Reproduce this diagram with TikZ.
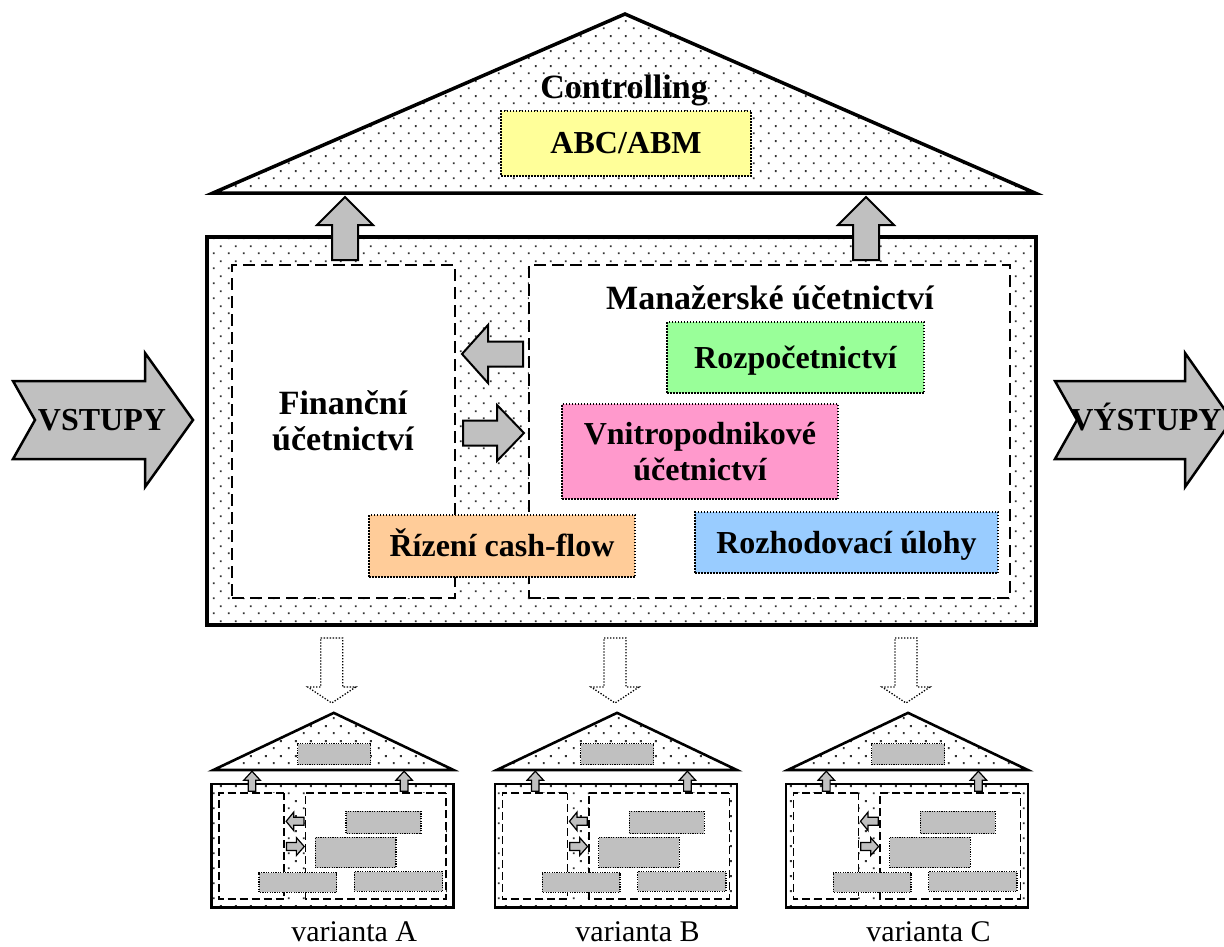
\documentclass[tikz,border=0pt]{standalone}
\usepackage{fontspec}
\setmainfont{Liberation Serif}
\usetikzlibrary{patterns}

\definecolor{abcyellow}{HTML}{FFFF99}
\definecolor{budgetgreen}{HTML}{99FF99}
\definecolor{internalpink}{HTML}{FF99CC}
\definecolor{cashorange}{HTML}{FFCC99}
\definecolor{decisionblue}{HTML}{99CCFF}
\definecolor{arrowgray}{HTML}{C0C0C0}

% sparse staggered dots used as background texture
\pgfdeclarepatternformonly{stipple}{\pgfpointorigin}{\pgfpoint{15pt}{15pt}}{\pgfpoint{15pt}{15pt}}{%
  \pgfpathrectangle{\pgfpoint{3pt}{3pt}}{\pgfpoint{2pt}{2pt}}%
  \pgfpathrectangle{\pgfpoint{10.5pt}{10.5pt}}{\pgfpoint{2pt}{2pt}}%
  \pgfusepath{fill}}

\newcommand\hdfont{\fontsize{34}{36}\selectfont\bfseries}
\newcommand\pnfont{\fontsize{32}{36}\selectfont\bfseries}
\newcommand\vrfont{\fontsize{30}{34}\selectfont}

\newif\ifhouselabels

% roof, frame, sections, arrows and panels of one house (full-size coordinates)
\newcommand\housebody{%
  \path[roofline] (213,193) -- (625,14) -- (1035,193) -- cycle;
  \path[hull] (207,237) rectangle (1036,625);
  \node[section, minimum width=223pt, minimum height=333pt] (fin) at (343.5,431.5) {};
  \node[section, minimum width=481pt, minimum height=333pt] (man) at (769.5,431.5) {};
  \path[lift] (332,260) -- (332,225) -- (317,225) -- (345,197) -- (373,225) -- (358,225) -- (358,260) -- cycle;
  \path[lift] (853,260) -- (853,225) -- (838,225) -- (866,197) -- (894,225) -- (879,225) -- (879,260) -- cycle;
  \path[lift] (523,341.5) -- (488,341.5) -- (488,325) -- (462,354) -- (488,383) -- (488,366.5) -- (523,366.5) -- cycle;
  \path[lift] (463,420.5) -- (497,420.5) -- (497,405) -- (524,433) -- (497,461) -- (497,445.5) -- (463,445.5) -- cycle;
  \node[abcbox, minimum width=250pt, minimum height=65pt] (abc) at (626,143.5) {\ifhouselabels ABC/ABM\fi};
  \node[budgetbox, minimum width=257pt, minimum height=71pt] (budget) at (795.5,357.5) {\ifhouselabels Rozpočetnictví\fi};
  \node[internalbox, minimum width=276pt, minimum height=95pt] (internal) at (700,451.5) {\ifhouselabels Vnitropodnikové\\účetnictví\fi};
  \node[cashbox, minimum width=266pt, minimum height=62pt] (cash) at (502,546) {\ifhouselabels Řízení cash-flow\fi};
  \node[decisionbox, minimum width=303pt, minimum height=61pt] (decision) at (846.5,542.5) {\ifhouselabels Rozhodovací úlohy\fi};
}

\newcommand\pendingarrow[1]{%
  \path[pending] ({#1-11},638) -- ({#1+11},638) -- ({#1+11},687) -- ({#1+24},687)
    -- (#1,703) -- ({#1-24},687) -- ({#1-11},687) -- cycle;
}

\begin{document}
\begin{tikzpicture}[x=1pt, y=-1pt,
  stippled/.style={pattern=stipple, pattern color=black!80},
  roofline/.style={stippled, draw, line width=3.5pt, line join=miter},
  hull/.style={stippled, draw, line width=3.5pt},
  section/.style={draw, fill=white, line width=2.2pt, dash pattern=on 12pt off 6pt, inner sep=0pt},
  panel/.style={draw, line width=1.5pt, dash pattern=on 1.5pt off 1.5pt, inner sep=0pt, font=\pnfont, align=center},
  oneline/.style={text height=22pt, text depth=1pt},
  abcbox/.style={panel, oneline, fill=abcyellow},
  budgetbox/.style={panel, oneline, fill=budgetgreen},
  internalbox/.style={panel, fill=internalpink},
  cashbox/.style={panel, oneline, fill=cashorange},
  decisionbox/.style={panel, oneline, fill=decisionblue},
  lift/.style={draw, fill=arrowgray, line width=2pt, line join=miter},
  bigarrow/.style={draw, fill=arrowgray, line width=2.5pt, line join=miter},
  pending/.style={draw, fill=white, line width=1.3pt, dash pattern=on 1.3pt off 1.7pt},
  heading/.style={font=\hdfont, inner sep=0pt},
  mini/.style={
    roofline/.append style={line width=2.6pt},
    hull/.append style={line width=2.6pt},
    section/.append style={line width=1.5pt, dash pattern=on 8pt off 4pt},
    lift/.append style={line width=1.2pt},
    panel/.append style={line width=1.2pt, dash pattern=on 1.2pt off 1.2pt},
    abcbox/.style={panel, fill=arrowgray},
    budgetbox/.style={panel, fill=arrowgray},
    internalbox/.style={panel, fill=arrowgray},
    cashbox/.style={panel, fill=arrowgray},
    decisionbox/.style={panel, fill=arrowgray}},
]
\useasboundingbox (0,0) rectangle (1224,947);

% full-size house
\houselabelstrue
\housebody
\node[heading, anchor=base] (controlling) at (624,99) {Controlling};
\node[heading, anchor=base] (manlabel) at (770,309) {Manažerské účetnictví};
\node[heading, align=center] (finlabel) at (343,421) {Finanční\\účetnictví};

% inputs and outputs
\path[bigarrow] (13,381) -- (145,381) -- (145,353) -- (193,420) -- (145,487) -- (145,459) -- (13,459) -- (35,420) -- cycle;
\node[font=\pnfont, inner sep=0pt, anchor=base] (in) at (102,430) {VSTUPY};
\path[bigarrow] (1055,381) -- (1185,381) -- (1185,353) -- (1232,420) -- (1185,487) -- (1185,459) -- (1055,459) -- (1077,420) -- cycle;
\node[font=\pnfont, inner sep=0pt, anchor=base] (out) at (1146,430) {VÝSTUPY};

% three miniature variants
\houselabelsfalse
\foreach \ax/\tag in {211.7/A, 495/B, 786/C} {
  \pendingarrow{\ax+120}
  \begin{scope}[shift={(\ax,784)}, xscale=0.292, yscale=0.319, shift={(-207,-237)},
                transform shape, mini, name prefix=\tag-]
    \housebody
  \end{scope}
  \node[font=\vrfont, inner sep=0pt, anchor=base] (variant-\tag) at ({\ax+142.5},941) {varianta \tag};
}
\end{tikzpicture}
\end{document}
